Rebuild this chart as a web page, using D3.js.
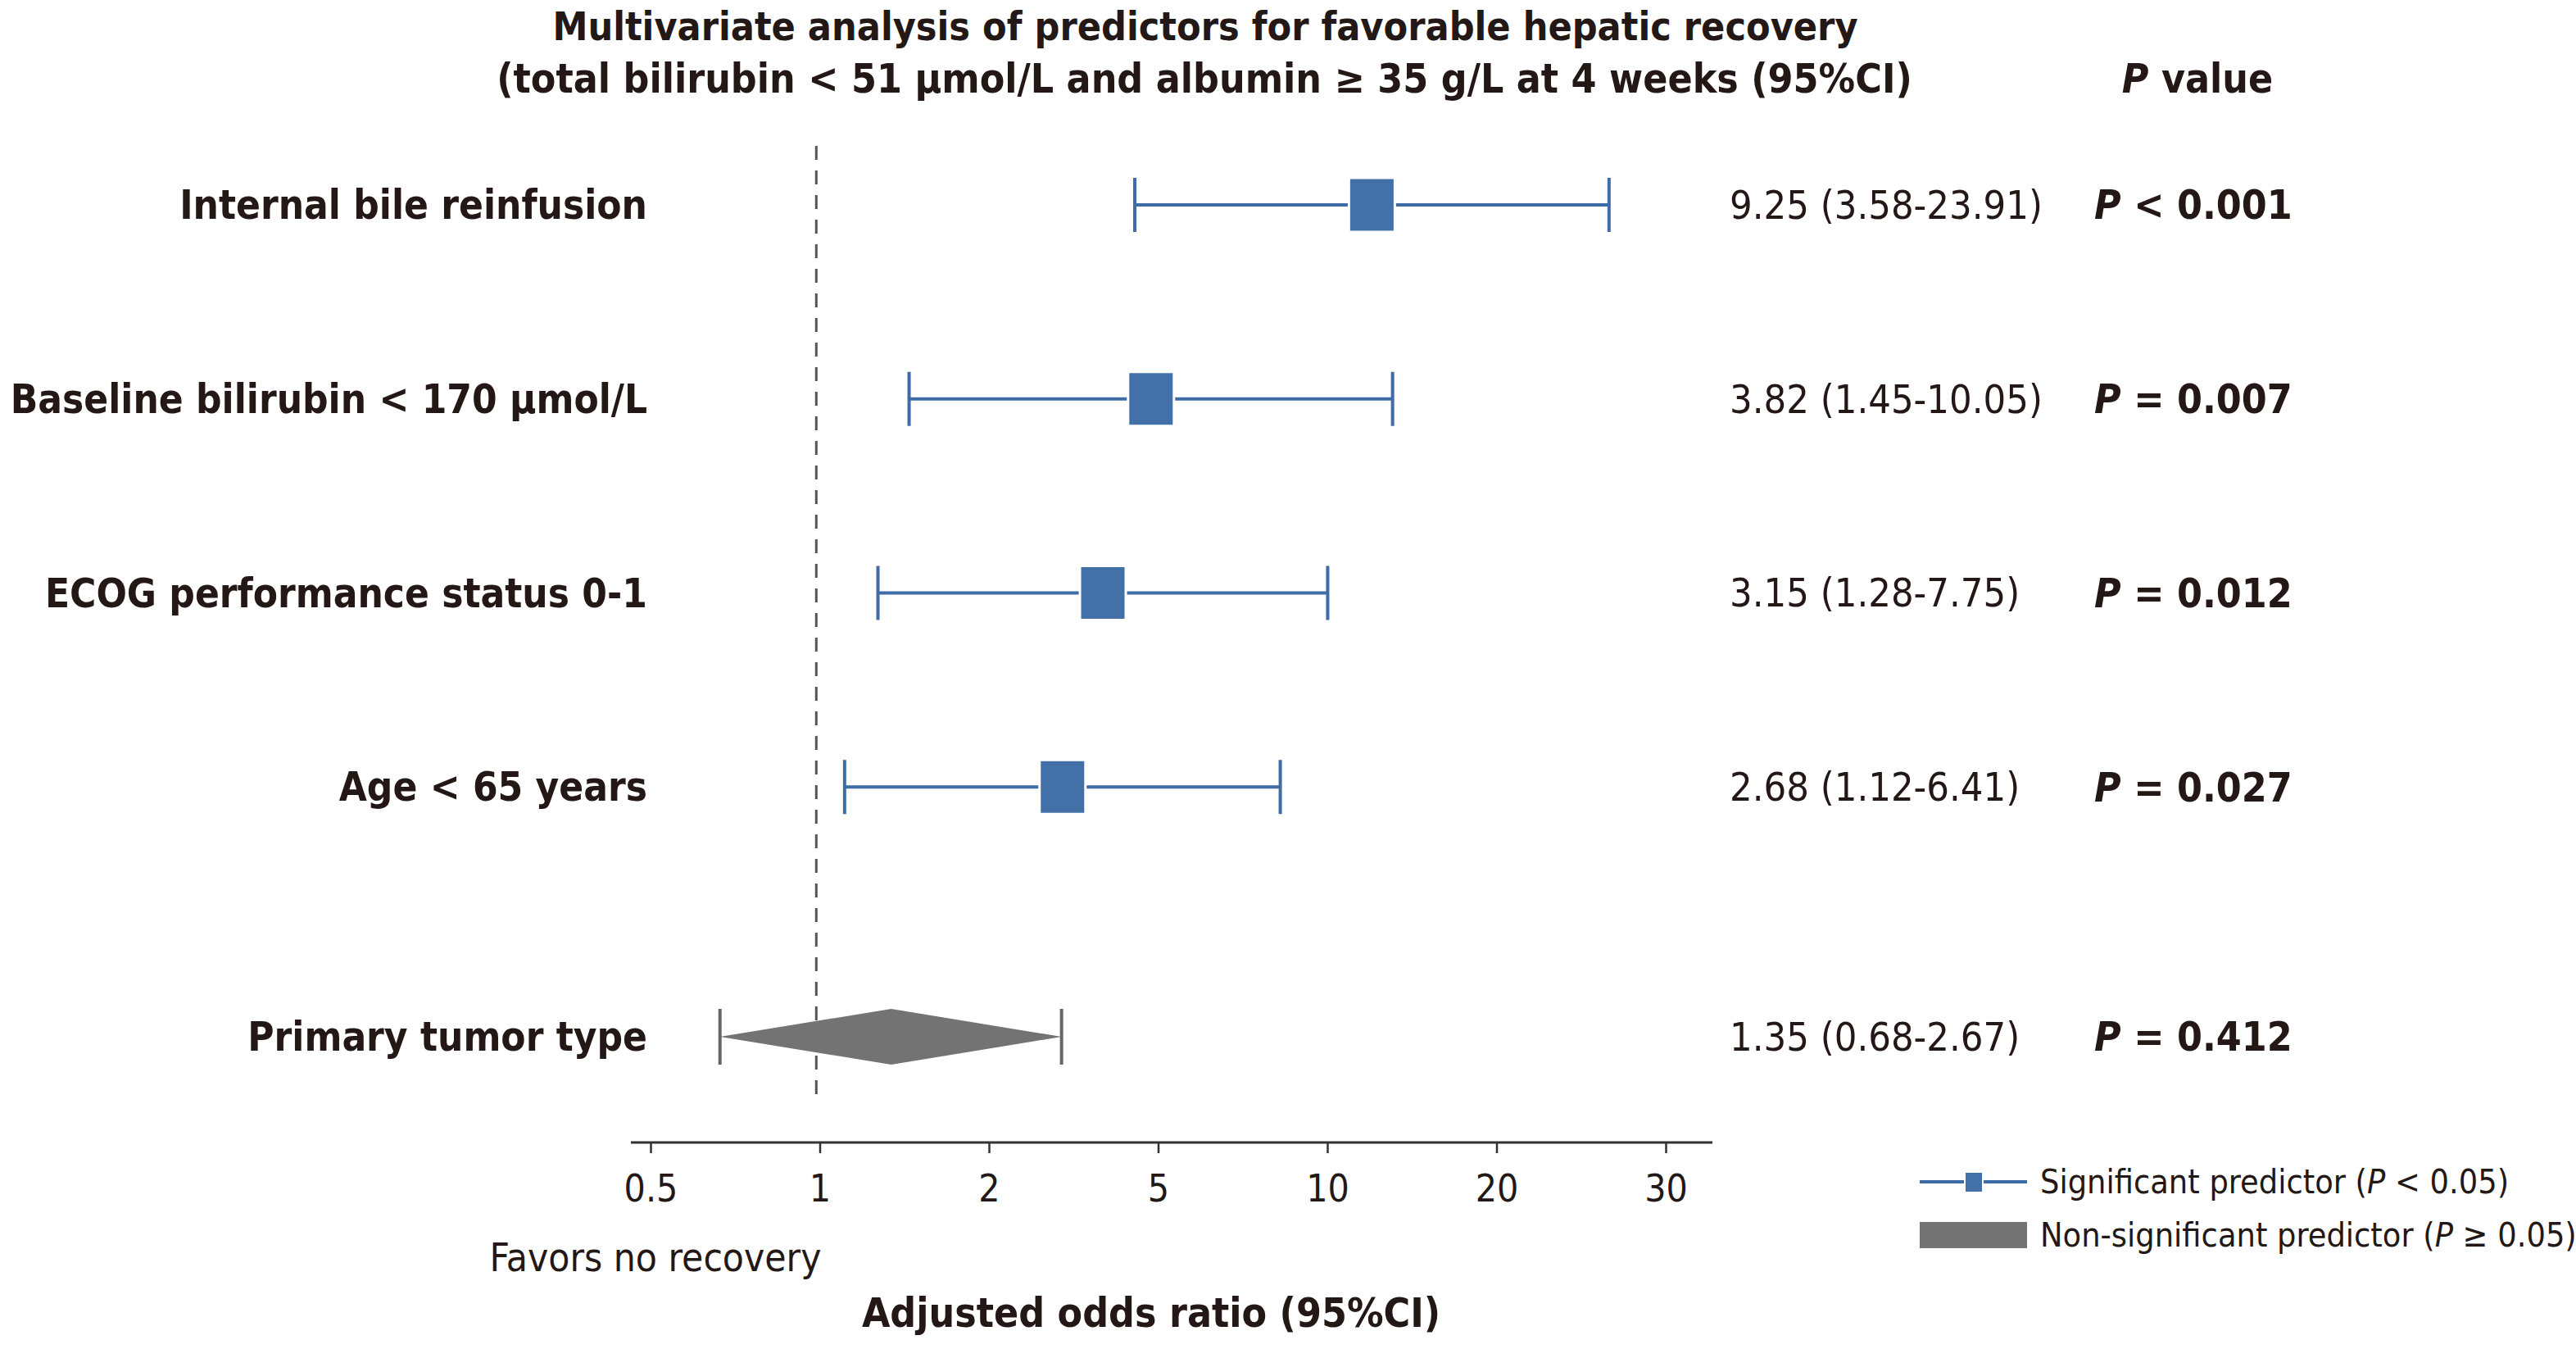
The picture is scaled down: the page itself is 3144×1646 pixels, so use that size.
<!DOCTYPE html>
<html>
<head>
<meta charset="utf-8">
<script src="https://cdn.jsdelivr.net/npm/d3@7"></script>
<style>
  body { margin: 0; background: #fff; }
  text { font-family: "DejaVu Sans Condensed", "DejaVu Sans", sans-serif; fill: #231815; }
</style>
</head>
<body>
<svg id="chart" width="3144" height="1646"></svg>
<script>
// data uit de figuur
const predictors = [
  "Internal bile reinfusion",
  "Baseline bilirubin < 170 \u03bcmol/L",
  "ECOG performance status 0-1",
  "Age < 65 years",
  "Primary tumor type",
];
const oddsRatio = [9.25, 3.82, 3.15, 2.68, 1.35];
const ciLow = [3.58, 1.45, 1.28, 1.12, 0.68];
const ciHigh = [23.91, 10.05, 7.75, 6.41, 2.67];
const pSign = ["<", "=", "=", "=", "="];
const pValue = ["0.001", "0.007", "0.012", "0.027", "0.412"];
const significant = [true, true, true, true, false];
const tickLabels = ["0.5", "1", "2", "5", "10", "20", "30"];

const rows = predictors.map((name, i) => ({
  name: name,
  or: oddsRatio[i],
  lo: ciLow[i],
  hi: ciHigh[i],
  sign: pSign[i],
  p: pValue[i],
  sig: significant[i],
}));

const blue = "#3f6ba6";
const boxBlue = "#4470a8";
const grey = "#737373";
const ink = "#231815";

const svg = d3.select("#chart");
svg.append("rect").attr("width", 3144).attr("height", 1646).attr("fill", "#fff");

// schalen
const x = d3.scaleLog().domain([0.5, 30]).range([785, 2033]);
const xTicks = d3.scalePoint().domain(tickLabels).range([794, 2033]);
const y = d3.scalePoint().domain(predictors).range([250, 1197]);
const rowY = (d) => y(d.name) + (d.sig ? 0 : 68); // extra ruimte voor niet-significant

// titel
svg.append("text")
  .attr("x", 1471).attr("y", 32).attr("dy", "0.35em")
  .attr("text-anchor", "middle").attr("font-size", 48).attr("font-weight", "bold")
  .text("Multivariate analysis of predictors for favorable hepatic recovery");
svg.append("text")
  .attr("x", 1470).attr("y", 96).attr("dy", "0.35em")
  .attr("text-anchor", "middle").attr("font-size", 49.5).attr("font-weight", "bold")
  .text("(total bilirubin < 51 \u03bcmol/L and albumin \u2265 35 g/L at 4 weeks (95%CI)");
const pHead = svg.append("text")
  .attr("x", 2682).attr("y", 96).attr("dy", "0.35em")
  .attr("text-anchor", "middle").attr("font-size", 49.5).attr("font-weight", "bold");
pHead.append("tspan").attr("font-style", "italic").text("P");
pHead.append("tspan").text(" value");

// referentielijn bij OR = 1
svg.append("line")
  .attr("x1", x(1)).attr("x2", x(1))
  .attr("y1", 178).attr("y2", 1345)
  .attr("stroke", "#555").attr("stroke-width", 3)
  .attr("stroke-dasharray", "17,13");

// x-as
const axisG = svg.append("g").attr("transform", "translate(0,1394)");
axisG.call(d3.axisBottom(xTicks).tickSize(13).tickSizeOuter(0).tickPadding(26));
axisG.select(".domain").remove();
axisG.append("line")
  .attr("x1", 770).attr("x2", 2090)
  .attr("stroke", "#333").attr("stroke-width", 3);
axisG.selectAll(".tick line").attr("stroke", "#333").attr("stroke-width", 2.5);
axisG.selectAll(".tick text")
  .attr("font-size", 46).attr("fill", ink)
  .style("font-family", '"DejaVu Sans Condensed", "DejaVu Sans", sans-serif');

svg.append("text")
  .attr("x", 800).attr("y", 1534).attr("dy", "0.35em")
  .attr("text-anchor", "middle").attr("font-size", 47.5)
  .text("Favors no recovery");
svg.append("text")
  .attr("x", 1405).attr("y", 1602).attr("dy", "0.35em")
  .attr("text-anchor", "middle").attr("font-size", 49.5).attr("font-weight", "bold")
  .text("Adjusted odds ratio (95%CI)");

// rijen
const g = svg.selectAll("g.row").data(rows).join("g").attr("class", "row");

g.append("text")
  .attr("x", 790).attr("y", rowY).attr("dy", "0.35em")
  .attr("text-anchor", "end").attr("font-size", 49).attr("font-weight", "bold")
  .text((d) => d.name);

g.append("text")
  .attr("x", 2111).attr("y", rowY).attr("dy", "0.35em")
  .attr("font-size", 48.4)
  .text((d) => d.or.toFixed(2) + " (" + d.lo.toFixed(2) + "-" + d.hi.toFixed(2) + ")");

const pText = g.append("text")
  .attr("x", 2556).attr("y", rowY).attr("dy", "0.35em")
  .attr("font-size", 49.5).attr("font-weight", "bold");
pText.append("tspan").attr("font-style", "italic").text("P");
pText.append("tspan").text((d) => " " + d.sign + " " + d.p);

// significante voorspellers: lijn + caps + blokje
const sig = g.filter((d) => d.sig);
sig.append("line")
  .attr("x1", (d) => x(d.lo)).attr("x2", (d) => x(d.hi))
  .attr("y1", rowY).attr("y2", rowY)
  .attr("stroke", blue).attr("stroke-width", 4);
sig.selectAll("line.cap")
  .data((d) => [d.lo, d.hi].map((v) => ({ v: v, y: rowY(d) })))
  .join("line").attr("class", "cap")
  .attr("x1", (c) => x(c.v)).attr("x2", (c) => x(c.v))
  .attr("y1", (c) => c.y - 33).attr("y2", (c) => c.y + 33)
  .attr("stroke", blue).attr("stroke-width", 4);
sig.append("rect")
  .attr("x", (d) => x(d.or) - 28).attr("y", (d) => rowY(d) - 33)
  .attr("width", 56).attr("height", 66)
  .attr("fill", boxBlue).attr("stroke", "#fff").attr("stroke-width", 3);

// niet-significant: ruit
const ns = g.filter((d) => !d.sig);
ns.append("path")
  .attr("d", (d) => {
    const yy = rowY(d);
    return "M" + x(d.lo) + "," + yy + "L" + x(d.or) + "," + (yy - 34) +
      "L" + x(d.hi) + "," + yy + "L" + x(d.or) + "," + (yy + 34) + "Z";
  })
  .attr("fill", grey);
ns.selectAll("line.cap")
  .data((d) => [d.lo, d.hi].map((v) => ({ v: v, y: rowY(d) })))
  .join("line").attr("class", "cap")
  .attr("x1", (c) => x(c.v)).attr("x2", (c) => x(c.v))
  .attr("y1", (c) => c.y - 34).attr("y2", (c) => c.y + 34)
  .attr("stroke", "#666").attr("stroke-width", 4);

// legenda
const leg = svg.append("g");
leg.append("line")
  .attr("x1", 2343).attr("x2", 2474).attr("y1", 1442).attr("y2", 1442)
  .attr("stroke", blue).attr("stroke-width", 4);
leg.append("rect")
  .attr("x", 2398).attr("y", 1430).attr("width", 22).attr("height", 25)
  .attr("fill", boxBlue).attr("stroke", "#fff").attr("stroke-width", 2);
const l1 = leg.append("text")
  .attr("x", 2490).attr("y", 1442).attr("dy", "0.35em").attr("font-size", 41);
l1.append("tspan").text("Significant predictor (");
l1.append("tspan").attr("font-style", "italic").text("P");
l1.append("tspan").text(" < 0.05)");
leg.append("rect")
  .attr("x", 2343).attr("y", 1491).attr("width", 131).attr("height", 32)
  .attr("fill", grey);
const l2 = leg.append("text")
  .attr("x", 2490).attr("y", 1507).attr("dy", "0.35em").attr("font-size", 41);
l2.append("tspan").text("Non-significant predictor (");
l2.append("tspan").attr("font-style", "italic").text("P");
l2.append("tspan").text(" \u2265 0.05)");
</script>
</body>
</html>
